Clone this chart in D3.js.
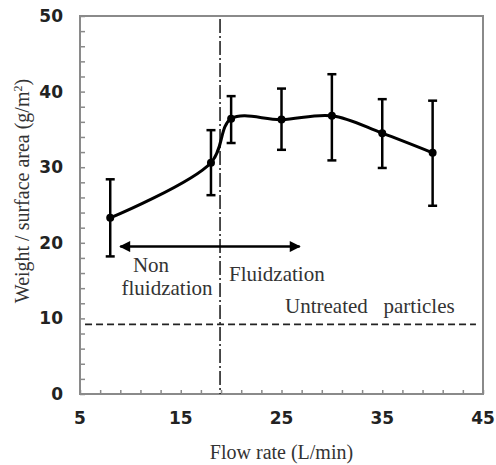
<!DOCTYPE html>
<html>
<head>
<meta charset="utf-8">
<script src="https://cdn.jsdelivr.net/npm/d3@7"></script>
<style>
  body { margin: 0; background: #fff; }
  svg { display: block; }
  .serif { font-family: "Liberation Serif", "Times New Roman", serif; fill: #333; }
  .tick-lab { font-family: "DejaVu Sans", sans-serif; font-weight: bold; font-size: 17px; fill: #222; }
</style>
</head>
<body>
<div id="chart"></div>
<script>
// data
const flowRate = [8, 18, 20, 25, 30, 35, 40];
const weightMean = [23.3, 30.6, 36.4, 36.3, 36.8, 34.5, 31.9];
const errUpper = [28.4, 34.9, 39.4, 40.4, 42.3, 39.0, 38.8];
const errLower = [18.2, 26.3, 33.2, 32.3, 30.9, 29.9, 24.9];

const xTicks = [5, 15, 25, 35, 45];
const yTicks = [0, 10, 20, 30, 40, 50];

const fluidLimit = 18.9;     // dash-dot vertical line
const untreatedLevel = 9.2;  // dashed horizontal line
const arrowSpan = [9, 26.8];
const arrowLevel = 19.5;

const width = 496, height = 465;
const margin = { left: 80, right: 13, top: 16, bottom: 71 };

const svg = d3.select("#chart")
  .append("svg")
  .attr("width", width)
  .attr("height", height);

const x = d3.scaleLinear().domain([5, 45]).range([margin.left, width - margin.right]);
const y = d3.scaleLinear().domain([0, 50]).range([height - margin.bottom, margin.top]);

const defs = svg.append("defs");
defs.append("marker")
  .attr("id", "arrow")
  .attr("viewBox", "0 0 10 10")
  .attr("refX", 9).attr("refY", 5)
  .attr("markerWidth", 5).attr("markerHeight", 4.4)
  .attr("markerUnits", "strokeWidth")
  .attr("orient", "auto-start-reverse")
  .append("path")
  .attr("d", "M0,0 L10,5 L0,10 Z")
  .attr("fill", "#000");

// frame
const axisColor = "#8a8a8a";
svg.append("rect")
  .attr("x", x(5)).attr("y", y(50))
  .attr("width", x(45) - x(5)).attr("height", y(0) - y(50))
  .attr("fill", "none")
  .attr("stroke", axisColor)
  .attr("stroke-width", 2);

// minor ticks, pointing inside
const xAxis = svg.append("g")
  .attr("transform", `translate(0,${y(0)})`)
  .call(d3.axisTop(x).tickValues(d3.range(5, 45.1, 2)).tickSize(4).tickFormat(""))
  .call((g) => g.select(".domain").remove());
xAxis.selectAll("line").attr("stroke", axisColor).attr("stroke-width", 1.5);

const yAxis = svg.append("g")
  .attr("transform", `translate(${x(5)},0)`)
  .call(d3.axisRight(y).tickValues(d3.range(0, 50.1, 2)).tickSize(5).tickFormat(""))
  .call((g) => g.select(".domain").remove());
yAxis.selectAll("line").attr("stroke", axisColor).attr("stroke-width", 1.5);

// tick labels
svg.selectAll(".xlab")
  .data(xTicks)
  .enter()
  .append("text")
  .attr("class", "tick-lab")
  .attr("x", (d) => x(d))
  .attr("y", y(0) + 30)
  .attr("text-anchor", "middle")
  .text((d) => d);

svg.selectAll(".ylab")
  .data(yTicks)
  .enter()
  .append("text")
  .attr("class", "tick-lab")
  .attr("x", x(5) - 17)
  .attr("y", (d) => y(d) + 6)
  .attr("text-anchor", "end")
  .text((d) => d);

// axis titles
svg.append("text")
  .attr("class", "serif")
  .attr("x", (x(5) + x(45)) / 2)
  .attr("y", 459)
  .attr("text-anchor", "middle")
  .style("font-size", "20px")
  .text("Flow rate (L/min)");

svg.append("text")
  .attr("class", "serif")
  .attr("transform", `translate(29,${(y(0) + y(50)) / 2 - 14}) rotate(-90)`)
  .attr("text-anchor", "middle")
  .style("font-size", "20px")
  .html("Weight / surface area (g/m<tspan dy='-7' font-size='12'>2</tspan><tspan dy='7'>)</tspan>");

// reference lines
svg.append("line")
  .attr("x1", x(fluidLimit)).attr("x2", x(fluidLimit))
  .attr("y1", y(50) + 3).attr("y2", y(0))
  .attr("stroke", "#222")
  .attr("stroke-width", 1.6)
  .attr("stroke-dasharray", "14,3,2,3");

svg.append("line")
  .attr("x1", x(5.5)).attr("x2", x(44.3))
  .attr("y1", y(untreatedLevel)).attr("y2", y(untreatedLevel))
  .attr("stroke", "#222")
  .attr("stroke-width", 1.8)
  .attr("stroke-dasharray", "7,4");

// double arrow
svg.append("line")
  .attr("x1", x(arrowSpan[0])).attr("x2", x(arrowSpan[1]))
  .attr("y1", y(arrowLevel)).attr("y2", y(arrowLevel))
  .attr("stroke", "#000")
  .attr("stroke-width", 2.5)
  .attr("marker-start", "url(#arrow)")
  .attr("marker-end", "url(#arrow)");

// annotation text
const note = (txt, px, py, anchor) =>
  svg.append("text")
    .attr("class", "serif")
    .attr("x", px).attr("y", py)
    .attr("text-anchor", anchor)
    .style("font-size", "21px")
    .style("white-space", "pre")
    .text(txt);

note("Non", 151, 272, "middle");
note("fluidzation", 167, 295, "middle");
note("Fluidzation", 229, 281, "start");
note("Untreated   particles", 285, 313, "start");

// error bars
const pts = flowRate.map((f, i) => ({ f, m: weightMean[i], lo: errLower[i], hi: errUpper[i] }));
const bars = svg.append("g").attr("stroke", "#000").attr("stroke-width", 2.5);
pts.forEach((d) => {
  bars.append("line").attr("x1", x(d.f)).attr("x2", x(d.f)).attr("y1", y(d.lo)).attr("y2", y(d.hi));
  bars.append("line").attr("x1", x(d.f) - 4.5).attr("x2", x(d.f) + 4.5).attr("y1", y(d.lo)).attr("y2", y(d.lo));
  bars.append("line").attr("x1", x(d.f) - 4.5).attr("x2", x(d.f) + 4.5).attr("y1", y(d.hi)).attr("y2", y(d.hi));
});

// smoothed line
const line = d3.line()
  .x((d) => x(d.f))
  .y((d) => y(d.m))
  .curve(d3.curveCatmullRom.alpha(0.5));

svg.append("path")
  .datum(pts)
  .attr("d", line)
  .attr("fill", "none")
  .attr("stroke", "#000")
  .attr("stroke-width", 3);

svg.selectAll(".pt")
  .data(pts)
  .enter()
  .append("circle")
  .attr("cx", (d) => x(d.f))
  .attr("cy", (d) => y(d.m))
  .attr("r", 4)
  .attr("fill", "#000");
</script>
</body>
</html>
